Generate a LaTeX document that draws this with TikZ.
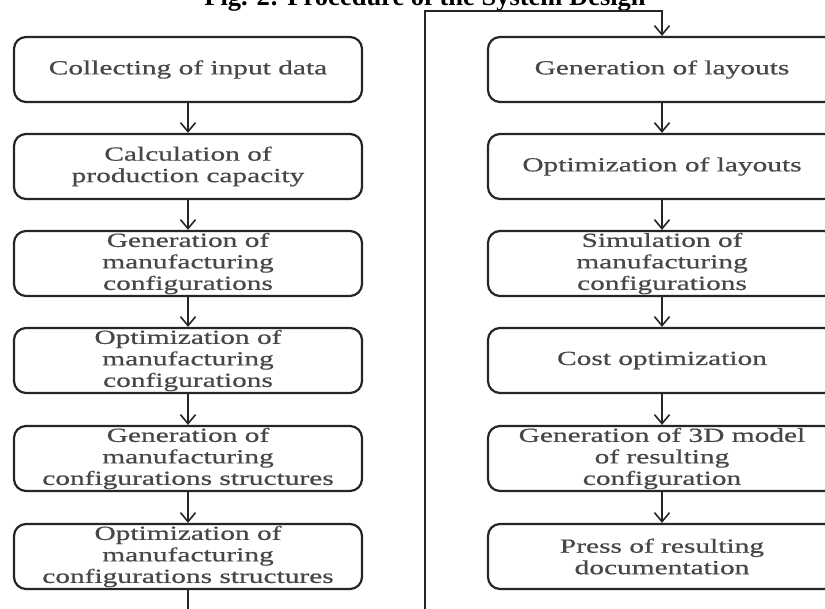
\documentclass[tikz,border=0pt]{standalone}
\usepackage{fontspec}
\setmainfont{Liberation Serif}
\newfontfamily\boxfont[FakeStretch=1.47,FakeBold=0.6]{Liberation Serif}
\usetikzlibrary{arrows.meta}
\tikzset{
  stepbox/.style={draw=black!85, line width=2.2pt, rounded corners=12pt,
    minimum width=348pt, minimum height=65pt, inner sep=0pt, align=center,
    text=black!72, font=\boxfont\fontsize{20}{21.5}\selectfont},
  flow/.style={draw=black!85, line width=1.7pt,
    -{Straight Barb[length=9pt,width=15pt,line width=1.6pt]}},
  titletext/.style={font=\bfseries\fontsize{26.5}{30}\selectfont, anchor=base, inner sep=0pt}
}
\begin{document}
\begin{tikzpicture}[x=1pt,y=1pt]
\clip (0,0) rectangle (825,-609);
\fill[white] (0,0) rectangle (825,-609);
\node[titletext] (title) at (425,-6) {Fig. 2: Procedure of the System Design};
% left column
\node[stepbox] (L1) at (188,-69.5) {Collecting of input data};
\node[stepbox] (L2) at (188,-166.5) {Calculation of\\production capacity};
\node[stepbox] (L3) at (188,-263.5) {Generation of\\manufacturing\\configurations};
\node[stepbox] (L4) at (188,-360.5) {Optimization of\\manufacturing\\configurations};
\node[stepbox] (L5) at (188,-458.5) {Generation of\\manufacturing\\configurations structures};
\node[stepbox] (L6) at (188,-556.5) {Optimization of\\manufacturing\\configurations structures};
% right column
\node[stepbox] (R1) at (662,-69.5) {Generation of layouts};
\node[stepbox] (R2) at (662,-166.5) {Optimization of layouts};
\node[stepbox] (R3) at (662,-263.5) {Simulation of\\manufacturing\\configurations};
\node[stepbox] (R4) at (662,-360.5) {Cost optimization};
\node[stepbox] (R5) at (662,-458.5) {Generation of 3D model\\of resulting\\configuration};
\node[stepbox] (R6) at (662,-556.5) {Press of resulting\\documentation};
% connectors
\foreach \a/\b in {L1/L2,L2/L3,L3/L4,L4/L5,L5/L6,R1/R2,R2/R3,R3/R4,R4/R5,R5/R6}
  \draw[flow] (\a.south) -- (\b.north);
\coordinate (bot) at (425,-630);
\coordinate (top) at (425,-11);
\draw[flow] (L6.south) -- (L6.south |- bot) -- (bot) -- (top) -| (R1.north);
\end{tikzpicture}
\end{document}
